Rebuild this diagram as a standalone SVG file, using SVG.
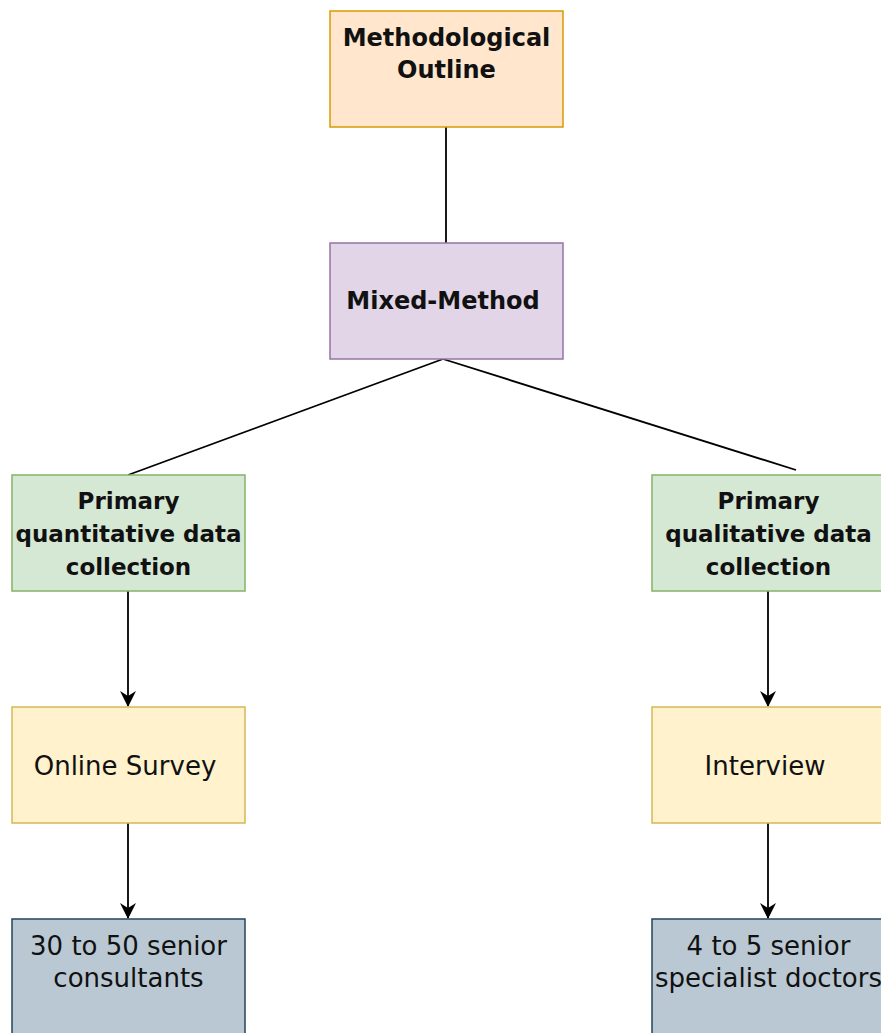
<svg xmlns="http://www.w3.org/2000/svg" width="881" height="1033" viewBox="0 0 881 1033">
  <style>
    .box { stroke-width: 1.5; }
    .t { font-family: "DejaVu Sans", "Liberation Sans", sans-serif; font-size: 26px; fill: #111; text-anchor: middle; dominant-baseline: central; }
    .b { font-weight: bold; font-size: 23px; }
    .lg { font-size: 24px; }
    .edge { stroke: #000; stroke-width: 1.8; fill: none; }
  </style>
  <defs>
    <marker id="arrow" viewBox="0 0 16 16" refX="15" refY="8" markerWidth="16" markerHeight="16" markerUnits="userSpaceOnUse" orient="auto">
      <path d="M0,0 L16,8 L0,16 L5,8 Z" fill="#000"/>
    </marker>
  </defs>
  <rect width="881" height="1033" fill="#fff"/>

  <g id="connectors">
    <line class="edge" x1="446" y1="127" x2="446" y2="243"/>
    <line class="edge" x1="443" y1="359" x2="128" y2="475"/>
    <line class="edge" x1="443" y1="359" x2="796" y2="470"/>
    <line class="edge" x1="128" y1="591" x2="128" y2="706" marker-end="url(#arrow)"/>
    <line class="edge" x1="768" y1="591" x2="768" y2="706" marker-end="url(#arrow)"/>
    <line class="edge" x1="128" y1="823" x2="128" y2="918" marker-end="url(#arrow)"/>
    <line class="edge" x1="768" y1="823" x2="768" y2="918" marker-end="url(#arrow)"/>
  </g>

  <g id="node-outline">
    <rect class="box" x="330" y="11" width="233" height="116" fill="#ffe6cc" stroke="#d79b00"/>
    <text class="t b lg" x="446.5" y="38">Methodological</text>
    <text class="t b lg" x="446.5" y="70">Outline</text>
  </g>

  <g id="node-mixed">
    <rect class="box" x="330" y="243" width="233" height="116" fill="#e1d5e7" stroke="#9673a6"/>
    <text class="t b lg" x="443" y="301">Mixed-Method</text>
  </g>

  <g id="node-quant">
    <rect class="box" x="12" y="475" width="233" height="116" fill="#d5e8d4" stroke="#82b366"/>
    <text class="t b" x="128.5" y="501">Primary</text>
    <text class="t b" x="128.5" y="534">quantitative data</text>
    <text class="t b" x="128.5" y="567">collection</text>
  </g>

  <g id="node-qual">
    <rect class="box" x="652" y="475" width="233" height="116" fill="#d5e8d4" stroke="#82b366"/>
    <text class="t b" x="768.5" y="501">Primary</text>
    <text class="t b" x="768.5" y="534">qualitative data</text>
    <text class="t b" x="768.5" y="567">collection</text>
  </g>

  <g id="node-survey">
    <rect class="box" x="12" y="707" width="233" height="116" fill="#fff2cc" stroke="#d6b656"/>
    <text class="t" x="125" y="766">Online Survey</text>
  </g>

  <g id="node-interview">
    <rect class="box" x="652" y="707" width="233" height="116" fill="#fff2cc" stroke="#d6b656"/>
    <text class="t" x="765" y="766">Interview</text>
  </g>

  <g id="node-consultants">
    <rect class="box" x="12" y="919" width="233" height="120" fill="#bac8d3" stroke="#23445d"/>
    <text class="t" x="128.5" y="946">30 to 50 senior</text>
    <text class="t" x="128.5" y="978">consultants</text>
  </g>

  <g id="node-doctors">
    <rect class="box" x="652" y="919" width="233" height="120" fill="#bac8d3" stroke="#23445d"/>
    <text class="t" x="768.5" y="946">4 to 5 senior</text>
    <text class="t" x="768.5" y="978">specialist doctors</text>
  </g>
</svg>
